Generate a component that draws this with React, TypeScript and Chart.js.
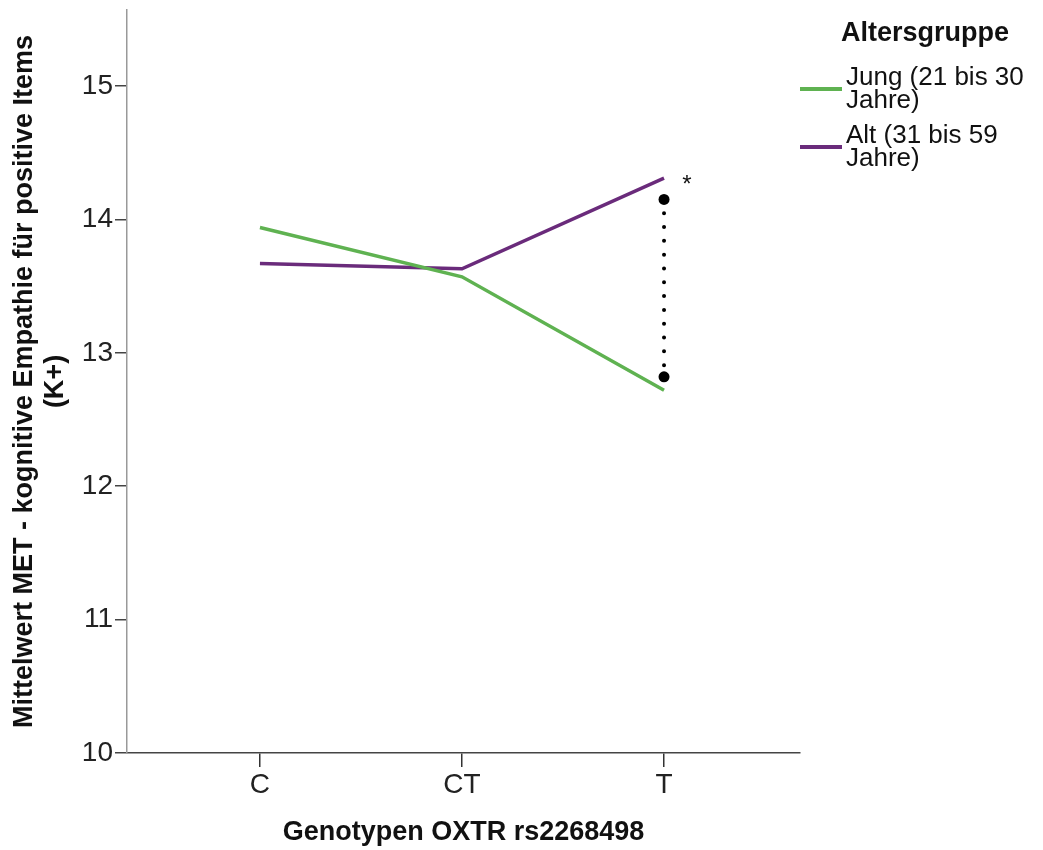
import React, { useEffect, useRef } from "react";
import { Chart, registerables } from "chart.js";

Chart.register(...registerables);

const categories = ["C", "CT", "T"];
const jungValues = [13.94, 13.57, 12.72];
const altValues = [13.67, 13.63, 14.31];
const yTicks = [10, 11, 12, 13, 14, 15];
const sigMarks = [14.15, 12.82];
const sigCategoryIndex = 2;

const seriesLabels = ["Jung (21 bis 30", "Jahre)", "Alt (31 bis 59", "Jahre)"];
const legendTitle = "Altersgruppe";
const xTitle = "Genotypen OXTR rs2268498";
const yTitle = ["Mittelwert MET - kognitive Empathie für positive Items", "(K+)"];

const GREEN = "#5FB251";
const PURPLE = "#6A2B7B";
const FONT = "'Liberation Sans', Arial, sans-serif";

export default function App() {
  const ref = useRef<HTMLCanvasElement | null>(null);

  useEffect(() => {
    document.body.style.margin = "0";
    const canvas = ref.current;
    if (!canvas) return;

    const overlay = {
      id: "overlay",
      afterDatasetsDraw(chart: any) {
        const ctx = chart.ctx;
        const xs = chart.scales.x;
        const ys = chart.scales.y;
        ctx.save();
        // asterisk
        ctx.fillStyle = "#111";
        ctx.font = `24px ${FONT}`;
        ctx.textAlign = "center";
        ctx.textBaseline = "middle";
        ctx.fillText("*", xs.getPixelForValue(sigCategoryIndex) + 23, ys.getPixelForValue(altValues[sigCategoryIndex]) + 7);

        // legend
        ctx.textAlign = "left";
        ctx.textBaseline = "middle";
        ctx.fillStyle = "#111";
        ctx.font = `bold 27px ${FONT}`;
        ctx.fillText(legendTitle, 841, 34);
        ctx.font = `26px ${FONT}`;
        const lineYs = [89, 147];
        const colors = [GREEN, PURPLE];
        const textYs = [[78, 101], [136, 159]];
        for (let i = 0; i < 2; i++) {
          ctx.strokeStyle = colors[i];
          ctx.lineWidth = 4;
          ctx.beginPath();
          ctx.moveTo(800, lineYs[i]);
          ctx.lineTo(842, lineYs[i]);
          ctx.stroke();
          ctx.fillStyle = "#111";
          ctx.fillText(seriesLabels[i * 2], 846, textYs[i][0]);
          ctx.fillText(seriesLabels[i * 2 + 1], 846, textYs[i][1]);
        }
        ctx.restore();
      },
    };

    const chart = new Chart(canvas, {
      type: "line",
      data: {
        datasets: [
          {
            label: "Jung",
            data: jungValues.map((v, i) => ({ x: i, y: v })),
            borderColor: GREEN,
            borderWidth: 3.5,
            pointRadius: 0,
            tension: 0,
          },
          {
            label: "Alt",
            data: altValues.map((v, i) => ({ x: i, y: v })),
            borderColor: PURPLE,
            borderWidth: 3.5,
            pointRadius: 0,
            tension: 0,
          },
          {
            label: "sig",
            data: sigMarks.map((v) => ({ x: sigCategoryIndex, y: v })),
            borderColor: "#000",
            backgroundColor: "#000",
            borderWidth: 4,
            borderDash: [0.01, 13.8],
            borderCapStyle: "round",
            pointRadius: 5.5,
            pointBackgroundColor: "#000",
            pointBorderWidth: 0,
          },
        ],
      },
      options: {
        responsive: false,
        animation: false,
        layout: { padding: { left: 0, right: 243, top: 10, bottom: 0 } },
        plugins: { legend: { display: false }, tooltip: { enabled: false } },
        scales: {
          x: {
            type: "linear",
            min: -0.658,
            max: 2.673,
            afterBuildTicks: (s: any) => {
              s.ticks = categories.map((_, i) => ({ value: i }));
            },
            afterFit: (s: any) => {
              s.height = 97;
              s.paddingLeft = 0;
              s.paddingRight = 0;
            },
            grid: { drawOnChartArea: false, drawTicks: true, tickLength: 14, color: "#333", lineWidth: 1.5 },
            border: { display: true, color: "#444", width: 1.5 },
            ticks: {
              padding: 1,
              color: "#222",
              font: { family: FONT, size: 28 },
              callback: (v: any) => categories[v] ?? "",
            },
            title: {
              display: true,
              text: xTitle,
              color: "#111",
              font: { family: FONT, size: 27, weight: "bold", lineHeight: 1.15 },
              padding: { top: 0, bottom: 1.5 },
            },
          },
          y: {
            type: "linear",
            min: 10,
            max: 15.57,
            afterBuildTicks: (s: any) => {
              s.ticks = yTicks.map((v) => ({ value: v }));
            },
            afterFit: (s: any) => {
              s.width = 127;
              s.paddingTop = 0;
              s.paddingBottom = 0;
            },
            grid: { drawOnChartArea: false, drawTicks: true, tickLength: 12, color: "#444", lineWidth: 1.5 },
            border: { display: true, color: "#999", width: 1.5 },
            ticks: {
              padding: 2,
              color: "#222",
              font: { family: FONT, size: 28 },
            },
            title: {
              display: true,
              text: yTitle,
              color: "#111",
              font: { family: FONT, size: 27, weight: "bold", lineHeight: 1.15 },
              padding: { top: 9, bottom: 0 },
            },
          },
        },
      },
      plugins: [overlay],
    } as any);

    return () => chart.destroy();
  }, []);

  return (
    <div style={{ width: 1043, height: 850, background: "#fff" }}>
      <canvas ref={ref} width={1043} height={850} style={{ display: "block" }} />
    </div>
  );
}
